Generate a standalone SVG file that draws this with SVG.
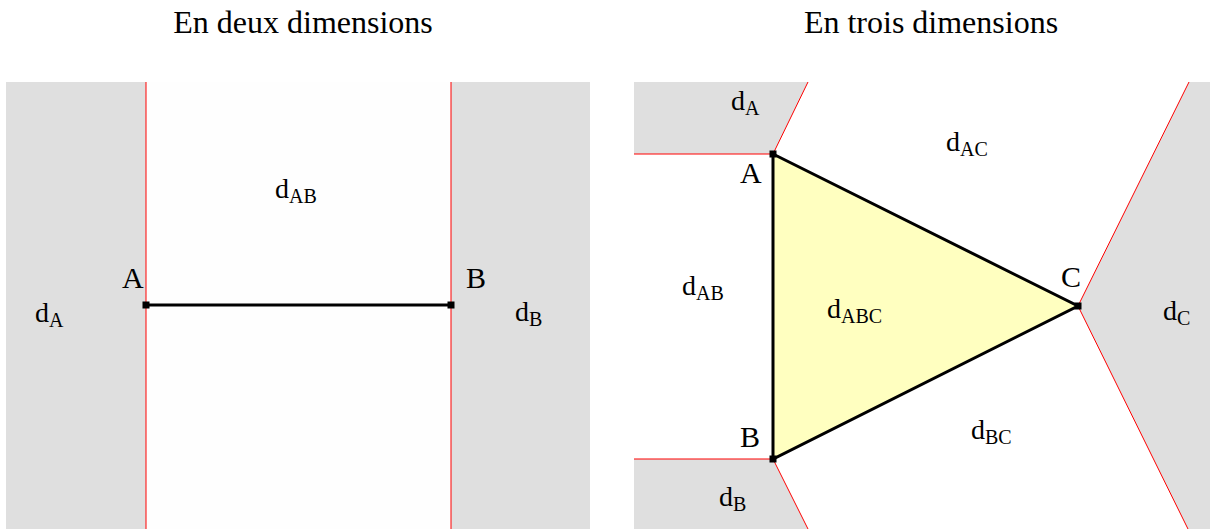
<svg xmlns="http://www.w3.org/2000/svg" width="1210" height="529" viewBox="0 0 1210 529">
<style>
text{font-family:"Liberation Serif","Times New Roman",serif;fill:#000}
.title{font-size:32px;text-anchor:middle}
.pt{font-size:30px}
.d{font-size:28px}
.sub{font-size:20px}
.gray{fill:#dfdfdf;stroke:none}
.red{stroke:#ff0000;stroke-width:1;fill:none}
.seg{stroke:#000;stroke-width:3;fill:none}
.tri{fill:#ffffc0;stroke:#000;stroke-width:3;stroke-linejoin:miter}
.dot{fill:#000}
</style>
<rect x="0" y="0" width="1210" height="529" fill="#ffffff"/>
<text class="title" x="303" y="33">En deux dimensions</text>
<text class="title" x="931" y="33">En trois dimensions</text>

<g id="left-panel">
  <g id="region-2d-A"><rect class="gray" x="6" y="82" width="140" height="447"/><text class="d" x="35" y="322">d<tspan class="sub" dy="5">A</tspan></text></g>
  <g id="region-2d-AB"><rect x="146" y="82" width="305" height="447" fill="#fefefe"/><text class="d" x="275" y="198">d<tspan class="sub" dy="5">AB</tspan></text></g>
  <g id="region-2d-B"><rect class="gray" x="451" y="82" width="139" height="447"/><text class="d" x="515" y="321">d<tspan class="sub" dy="5">B</tspan></text></g>
</g>

<g id="right-panel">
  <g id="region-3d-A"><polygon class="gray" points="634,82 808,82 773,154 634,154"/><text class="d" x="731" y="110">d<tspan class="sub" dy="5">A</tspan></text></g>
  <g id="region-3d-B"><polygon class="gray" points="634,459 773,459 808,529 634,529"/><text class="d" x="719" y="506">d<tspan class="sub" dy="5">B</tspan></text></g>
  <g id="region-3d-C"><polygon class="gray" points="1189,82 1210,82 1210,529 1188,529 1078,306"/><text class="d" x="1163" y="320">d<tspan class="sub" dy="5">C</tspan></text></g>
  <g id="region-3d-AB"><text class="d" x="682" y="295">d<tspan class="sub" dy="5">AB</tspan></text></g>
  <g id="region-3d-AC"><text class="d" x="946" y="151">d<tspan class="sub" dy="5">AC</tspan></text></g>
  <g id="region-3d-BC"><text class="d" x="971" y="439">d<tspan class="sub" dy="5">BC</tspan></text></g>
  <g id="region-3d-ABC"><polygon class="tri" points="773,154 1078,306 773,459"/><text class="d" x="827" y="318">d<tspan class="sub" dy="5">ABC</tspan></text></g>
</g>

<g id="connectors">
  <line class="red" x1="146" y1="82" x2="146" y2="529"/>
  <line class="red" x1="451" y1="82" x2="451" y2="529"/>
  <line class="seg" x1="146" y1="305" x2="451" y2="305"/>
  <line class="red" x1="634" y1="154" x2="773" y2="154"/>
  <line class="red" x1="773" y1="154" x2="808" y2="82"/>
  <line class="red" x1="634" y1="459" x2="773" y2="459"/>
  <line class="red" x1="773" y1="459" x2="808" y2="529"/>
  <line class="red" x1="1078" y1="306" x2="1189" y2="82"/>
  <line class="red" x1="1078" y1="306" x2="1188" y2="529"/>
</g>

<g id="point-2d-A"><rect class="dot" x="142.5" y="301.5" width="7" height="7"/><text class="pt" x="122" y="288">A</text></g>
<g id="point-2d-B"><rect class="dot" x="447.5" y="301.5" width="7" height="7"/><text class="pt" x="466" y="288">B</text></g>
<g id="point-3d-A"><rect class="dot" x="769.5" y="150.5" width="7" height="7"/><text class="pt" x="740" y="183">A</text></g>
<g id="point-3d-B"><rect class="dot" x="769.5" y="455.5" width="7" height="7"/><text class="pt" x="740" y="447">B</text></g>
<g id="point-3d-C"><rect class="dot" x="1074.5" y="302.5" width="7" height="7"/><text class="pt" x="1061" y="287">C</text></g>
</svg>
